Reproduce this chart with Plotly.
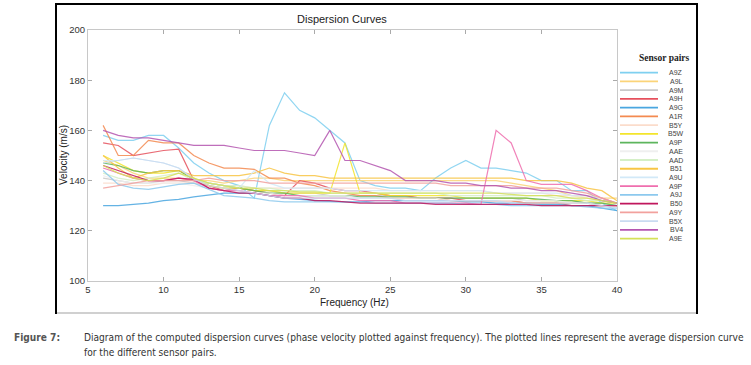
import plotly.graph_objects as go

freq = [6, 7, 8, 9, 10, 11, 12, 13, 14, 15, 16, 17, 18, 19, 20, 21, 22, 23,
        24, 25, 26, 27, 28, 29, 30, 31, 32, 33, 34, 35, 36, 37, 38, 39, 40]

names = ["A9Z", "A9L", "A9M", "A9H", "A9G", "A1R", "B5Y", "B5W", "A9P", "AAE",
         "AAD", "B51", "A9U", "A9P", "A9J", "B50", "A9Y", "B5X", "BV4", "A9E"]

colors = ["#7fd0f0", "#fbd479", "#c9c9c9", "#e6505c", "#4aa6e0", "#f48a50",
          "#fbdccb", "#f3e52b", "#5db55d", "#efefef", "#d4efc6", "#f8c545",
          "#d2e9f8", "#ef6eae", "#8cc9ee", "#c0175d", "#f2a19d", "#c9dbf1",
          "#b455b0", "#d5e158"]

a9z = [158, 156, 156, 158, 158, 153, 147, 143, 140, 138, 133, 162, 175, 168, 165,
       160, 155, 140, 138, 137, 137, 136, 141, 145, 148, 145, 145, 144, 143, 140,
       140, 136, 136, 131, 128]
a9l = [148, 146, 143, 141, 141, 141, 140, 140, 139, 140, 141, 141, 140, 140, 140,
       140, 140, 140, 140, 140, 140, 140, 140, 140, 140, 140, 140, 139, 138, 137,
       136, 134, 134, 133, 133]
a9m = [141, 140, 139, 139, 140, 140, 139, 138, 137, 137, 136, 136, 135, 135, 135,
       134, 134, 134, 134, 134, 134, 133, 133, 133, 133, 133, 133, 133, 132, 132,
       132, 132, 131, 131, 130]
a9h = [155, 154, 150, 151, 152, 152.5, 140, 138, 136, 137, 136, 135, 134, 140, 139,
       137, 136, 136, 135, 134, 134, 133, 133, 133, 132, 132, 132, 132, 131, 131,
       131, 130, 130, 130, 130]
a9g = [130, 130, 130.5, 131, 132, 132.5, 133.5, 134.3, 135, 135, 135, 134, 133, 132.5, 132,
       131.7, 131.5, 131.5, 132, 132, 132, 132, 132, 132, 131.5, 131.5, 131, 131, 131, 130.5,
       130.5, 130, 130, 129, 128]
a1r = [162, 150, 150, 156, 155, 155, 150, 147, 145, 145, 144.5, 141, 141, 139, 138,
       136, 135, 134, 134, 133, 133, 133, 133, 132, 132, 132, 132, 132, 131, 131,
       131, 131, 131, 130, 130]
b5y = [139, 139, 138, 138, 139, 139, 139, 139, 138, 138, 137, 137, 137, 137, 137,
       137, 137, 137, 137, 136, 136, 136, 136, 136, 136, 136, 135, 135, 135, 135,
       134, 134, 133, 132, 131]
b5w = [150, 147, 144, 143, 143, 144, 141, 138, 137, 137, 136, 136, 135, 135, 135,
       135, 155, 135, 135, 134, 134, 134, 134, 134, 133, 133, 133, 133, 133, 132,
       132, 132, 132, 131, 131]
a9p_1 = [147, 146, 144, 143, 144, 144, 140.5, 139, 138, 137, 136, 135, 135, 134, 134,
         134, 134, 133.5, 133.5, 133.5, 133.5, 133, 133, 133, 133, 133, 133, 133, 133, 132.5,
         132, 132, 131, 131, 130]
aae = [142, 140, 139, 139, 139, 139, 138, 137, 136, 136, 135, 135, 134, 134, 134,
       134, 134, 133, 133, 133, 133, 133, 133, 132, 132, 132, 132, 132, 132, 132,
       132, 131, 131, 130, 130]
aad = [143, 141, 140, 141, 142, 143, 140, 139, 138, 138, 137, 137, 136, 136, 136,
       135, 135, 135, 135, 135, 135, 135, 135, 134, 134, 134, 134, 134, 134, 134,
       133, 133, 132, 132, 131]
b51 = [150, 145, 141, 143, 144, 144, 142, 142, 142, 142, 143, 145, 143, 142, 142,
       141, 141, 141, 141, 141, 141, 141, 141, 141, 141, 141, 141, 141, 140, 140,
       140, 139, 137, 136, 132]
a9u = [148, 148, 149, 148, 147, 145, 140.5, 139, 138, 137, 144, 139, 137, 137, 137,
       137, 136, 136, 136, 136, 136, 136, 136, 136, 136, 136, 135, 135, 135, 135,
       135, 134, 134, 133, 131]
a9p_2 = [145, 143, 141, 140, 140, 141, 140, 137, 136, 136, 135, 134, 134, 134, 133,
         133, 133, 132, 132, 132, 131, 131, 131, 131, 131, 130.5, 160, 155, 140, 138.5,
         138.5, 138.5, 136, 133, 131]
a9j = [144, 138.5, 137, 136.5, 137.5, 138.5, 139, 136.5, 134, 133.5, 133, 132, 131.5, 131.5, 131.5,
       131.5, 131.5, 131.5, 131, 131, 131, 131, 131, 131, 130.5, 130.5, 130.5, 130, 130, 130,
       130, 130, 129.5, 129, 129]
b50 = [146, 144, 142, 140, 140, 141, 140.5, 137, 136, 135, 135, 134, 133, 133, 132,
       132, 131.5, 131, 131, 131, 131, 131, 130.5, 130.5, 130.5, 130.5, 130.5, 130.5, 130.5, 130,
       130, 130, 130, 130, 130]
a9y = [137, 138, 139, 140, 140, 140, 140, 141, 140, 140, 140, 139, 139, 139, 139,
       139, 139, 139, 139, 139, 139, 139, 139, 138, 138, 138, 138, 138, 137, 137,
       137, 136, 135, 133, 131]
b5x = [147, 148, 149, 148, 147, 145, 140.5, 138, 137, 136, 135, 134, 133, 133, 133,
       133, 133, 133, 133, 133, 132, 132, 132, 132, 132, 132, 132, 131, 131, 131,
       131, 131, 131, 130, 129]
bv4 = [160, 158, 157, 157, 156, 155, 154, 154, 154, 153, 152, 152, 152, 151, 150,
       160, 148, 148, 146, 144, 140, 140, 140, 139, 139, 138, 138, 137, 137, 136,
       136, 135, 134, 132, 131]
a9e = [146, 143, 141, 140, 141, 143, 141, 139, 138, 137, 137, 136, 136, 135.5, 135.5,
       135, 135, 135, 135, 135, 135, 135, 135, 135, 135, 135, 135, 134.5, 134, 134,
       134, 133, 133, 132, 131]

series = [a9z, a9l, a9m, a9h, a9g, a1r, b5y, b5w, a9p_1, aae,
          aad, b51, a9u, a9p_2, a9j, b50, a9y, b5x, bv4, a9e]

# plot area in pixels: x 88..617, y 30..281
L, R, T, B = 88, 617, 30, 281


def px(x):
    return (x - L) / (R - L)


def py(y):
    return (B - y) / (B - T)


fig = go.Figure()
for name, col, vals in zip(names, colors, series):
    fig.add_trace(go.Scatter(x=freq, y=vals, mode="lines", name=name,
                             line=dict(color=col, width=1.2), opacity=0.85,
                             showlegend=False))

shapes = []
ann = []

# outer frame: black box, light grey bottom edge
shapes.append(dict(type="rect", xref="paper", yref="paper",
                   x0=px(56), x1=px(697), y0=py(313), y1=py(4),
                   line=dict(color="black", width=2), fillcolor="rgba(0,0,0,0)"))
shapes.append(dict(type="line", xref="paper", yref="paper",
                   x0=px(57), x1=px(696), y0=py(313), y1=py(313),
                   line=dict(color="#d0d0d0", width=2)))

# hand-made legend
ann.append(dict(text="<b>Sensor pairs</b>", x=px(664), y=py(58), xref="paper", yref="paper",
                showarrow=False, xanchor="center", yanchor="middle",
                font=dict(family="Liberation Serif", size=9.5, color="#222")))
for i, (name, col) in enumerate(zip(names, colors)):
    yy = 72.7 + i * 8.73
    shapes.append(dict(type="line", xref="paper", yref="paper",
                       x0=px(620), x1=px(658), y0=py(yy), y1=py(yy),
                       line=dict(color=col, width=1.8)))
    ann.append(dict(text=name, x=px(676), y=py(yy), xref="paper", yref="paper",
                    showarrow=False, xanchor="center", yanchor="middle",
                    font=dict(family="Liberation Sans", size=7, color="#444")))

# titles
ann.append(dict(text="Dispersion Curves", x=px(342), y=py(19), xref="paper", yref="paper",
                showarrow=False, xanchor="center", yanchor="middle",
                font=dict(family="Liberation Sans", size=11, color="#222")))
ann.append(dict(text="Frequency (Hz)", x=px(354), y=py(302), xref="paper", yref="paper",
                showarrow=False, xanchor="center", yanchor="middle",
                font=dict(family="Liberation Sans", size=10, color="#222")))
ann.append(dict(text="Velocity (m/s)", x=px(63), y=py(155), xref="paper", yref="paper",
                showarrow=False, xanchor="center", yanchor="middle", textangle=-90,
                font=dict(family="Liberation Sans", size=10, color="#222")))

# caption
cap_family = "DejaVu Sans Condensed, Liberation Sans Narrow, Liberation Sans"
cap_font = dict(family=cap_family, size=10.1, color="#333")
ann.append(dict(text="<b>Figure 7:</b>", x=px(12), y=py(337), xref="paper", yref="paper",
                showarrow=False, xanchor="left", yanchor="middle",
                font=dict(family=cap_family, size=10.1, color="#555")))
ann.append(dict(text="Diagram of the computed dispersion curves (phase velocity plotted against frequency). "
                     "The plotted lines represent the average dispersion curve",
                x=px(82), y=py(337), xref="paper", yref="paper", showarrow=False,
                xanchor="left", yanchor="middle", font=cap_font))
ann.append(dict(text="for the different sensor pairs.", x=px(82), y=py(352), xref="paper", yref="paper",
                showarrow=False, xanchor="left", yanchor="middle", font=cap_font))

axis_common = dict(showgrid=False, zeroline=False, showline=True, linecolor="#c8c8c8",
                   linewidth=1, mirror="ticks", ticks="inside", ticklen=4, tickcolor="#aaa",
                   tickfont=dict(family="Liberation Sans", size=9.5, color="#333"))

fig.update_layout(
    width=751, height=365,
    margin=dict(l=L, r=751 - R, t=T, b=365 - B),
    paper_bgcolor="white", plot_bgcolor="white",
    xaxis=dict(range=[5, 40], tickvals=[5, 10, 15, 20, 25, 30, 35, 40], **axis_common),
    yaxis=dict(range=[100, 200], tickvals=[100, 120, 140, 160, 180, 200], **axis_common),
    shapes=shapes, annotations=ann, showlegend=False,
)

fig.write_html("out.html", config={"displayModeBar": False},
               post_script="document.body.style.margin='0px';")
